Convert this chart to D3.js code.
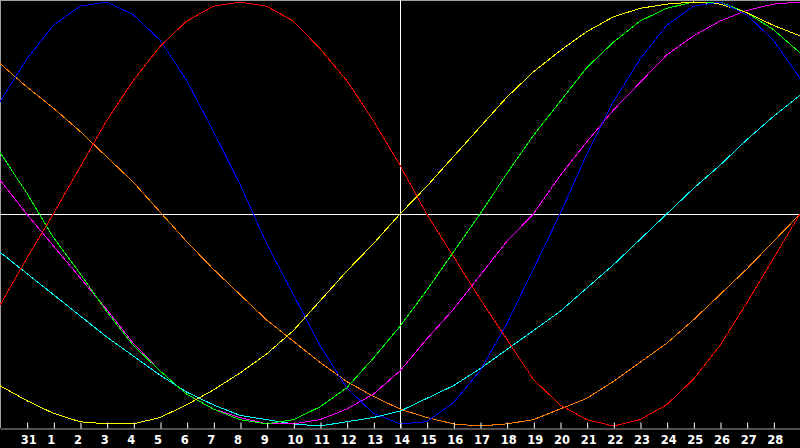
<!DOCTYPE html>
<html>
<head>
<meta charset="utf-8">
<script src="https://cdn.jsdelivr.net/npm/d3@7/dist/d3.min.js"></script>
<style>
  body { margin: 0; background: #000; }
  svg { display: block; background: #000; }
  .lbl { font-family: "DejaVu Sans", sans-serif; font-weight: bold; font-size: 11.5px; fill: #fff; }
</style>
</head>
<body>
<div id="graph"></div>
<script>
// day labels under the ticks (positions 1..29 of the 0..30 day slots)
let dayLabels = ["31","1","2","3","4","5","6","7","8","9","10","11","12","13","14",
                 "15","16","17","18","19","20","21","22","23","24","25","26","27","28"];

// one value per day slot (-1 .. 1)
let blue    = [0.53,0.73,0.89,0.98,1.0,0.94,0.82,0.63,0.39,0.14,-0.14,-0.38,-0.62,-0.82,-0.94,-0.99,-0.98,-0.89,-0.74,-0.52,-0.26,0.0,0.28,0.53,0.73,0.89,0.98,1.0,0.94,0.82,0.64];
let red     = [-0.43,-0.21,0.0,0.22,0.44,0.63,0.79,0.91,0.98,1.0,0.98,0.91,0.78,0.63,0.44,0.23,0.0,-0.2,-0.4,-0.59,-0.78,-0.9,-0.97,-1.0,-0.97,-0.9,-0.78,-0.62,-0.42,-0.21,0.0];
let yellow  = [-0.81,-0.88,-0.94,-0.98,-0.99,-0.99,-0.96,-0.9,-0.83,-0.75,-0.66,-0.55,-0.41,-0.27,-0.14,0.0,0.13,0.27,0.41,0.55,0.67,0.77,0.86,0.93,0.97,0.99,1.0,0.99,0.95,0.89,0.84];
let green   = [0.29,0.1,-0.11,-0.28,-0.46,-0.62,-0.74,-0.85,-0.92,-0.97,-0.99,-0.97,-0.91,-0.82,-0.68,-0.53,-0.36,-0.18,0.0,0.19,0.37,0.53,0.69,0.81,0.91,0.97,1.0,1.0,0.95,0.87,0.76];
let magenta = [0.16,0.0,-0.15,-0.3,-0.45,-0.61,-0.74,-0.85,-0.92,-0.96,-0.99,-0.99,-0.97,-0.92,-0.85,-0.74,-0.59,-0.45,-0.29,-0.13,0.0,0.18,0.34,0.49,0.62,0.75,0.84,0.91,0.96,0.99,1.0];
let cyan    = [-0.18,-0.28,-0.38,-0.48,-0.58,-0.67,-0.76,-0.84,-0.9,-0.95,-0.97,-0.99,-1.0,-0.98,-0.96,-0.93,-0.87,-0.81,-0.73,-0.64,-0.55,-0.46,-0.35,-0.24,-0.12,0.0,0.12,0.23,0.35,0.46,0.56];
let orange  = [0.71,0.6,0.5,0.39,0.27,0.15,0.01,-0.13,-0.26,-0.38,-0.5,-0.6,-0.7,-0.79,-0.86,-0.92,-0.96,-0.99,-1.0,-0.99,-0.97,-0.92,-0.87,-0.79,-0.7,-0.61,-0.5,-0.38,-0.26,-0.13,0.0];

let series = [
  {color: '#00ffff', values: cyan},
  {color: '#ff8000', values: orange},
  {color: '#ff00ff', values: magenta},
  {color: '#00ff00', values: green},
  {color: '#ffff00', values: yellow},
  {color: '#0000ff', values: blue},
  {color: '#ff0000', values: red}
];

let w = 800;
let h = 448;
let axisY = 428;

let svg = d3.select('#graph')
  .append('svg')
  .attr('width', w)
  .attr('height', h);

let x = d3.scaleLinear().domain([0, 30]).range([0, w]);
let y = d3.scaleLinear().domain([-1, 1]).range([426, 2]);

// frame: top + left in grey
svg.append('line')
  .attr('x1', 0).attr('x2', w).attr('y1', 0.5).attr('y2', 0.5)
  .attr('stroke', '#a0a0a0');
svg.append('line')
  .attr('x1', 0.5).attr('x2', 0.5).attr('y1', 0).attr('y2', axisY)
  .attr('stroke', '#a0a0a0');

// white cross lines (zero line and "today")
svg.append('line')
  .attr('x1', 0).attr('x2', w)
  .attr('y1', Math.round(y(0)) + 0.5).attr('y2', Math.round(y(0)) + 0.5)
  .attr('stroke', '#fff');
svg.append('line')
  .attr('x1', x(15) + 0.5).attr('x2', x(15) + 0.5)
  .attr('y1', 0).attr('y2', axisY)
  .attr('stroke', '#fff');

// curves
let line = d3.line()
  .x((d, i) => x(i))
  .y(d => y(d));

svg.selectAll('path.curve')
  .data(series)
  .enter()
  .append('path')
  .attr('class', 'curve')
  .attr('d', d => line(d.values))
  .attr('fill', 'none')
  .attr('stroke', d => d.color)
  .attr('stroke-width', 1)
  .attr('shape-rendering', 'crispEdges');

// bottom axis with upward ticks
let axis = d3.axisBottom(x)
  .tickValues(d3.range(1, 30))
  .tickSizeInner(-6)
  .tickSizeOuter(0)
  .tickFormat('');

let g = svg.append('g')
  .attr('transform', `translate(0,${axisY + 0.5})`)
  .call(axis);
g.select('.domain').attr('stroke', '#a0a0a0');
g.selectAll('.tick line').attr('stroke', '#fff').attr('transform', 'translate(0.5,0)');

svg.selectAll('text.lbl')
  .data(dayLabels)
  .enter()
  .append('text')
  .attr('class', 'lbl')
  .attr('x', (d, i) => x(i + 1) - 6)
  .attr('y', 444)
  .text(d => d);
</script>
</body>
</html>
